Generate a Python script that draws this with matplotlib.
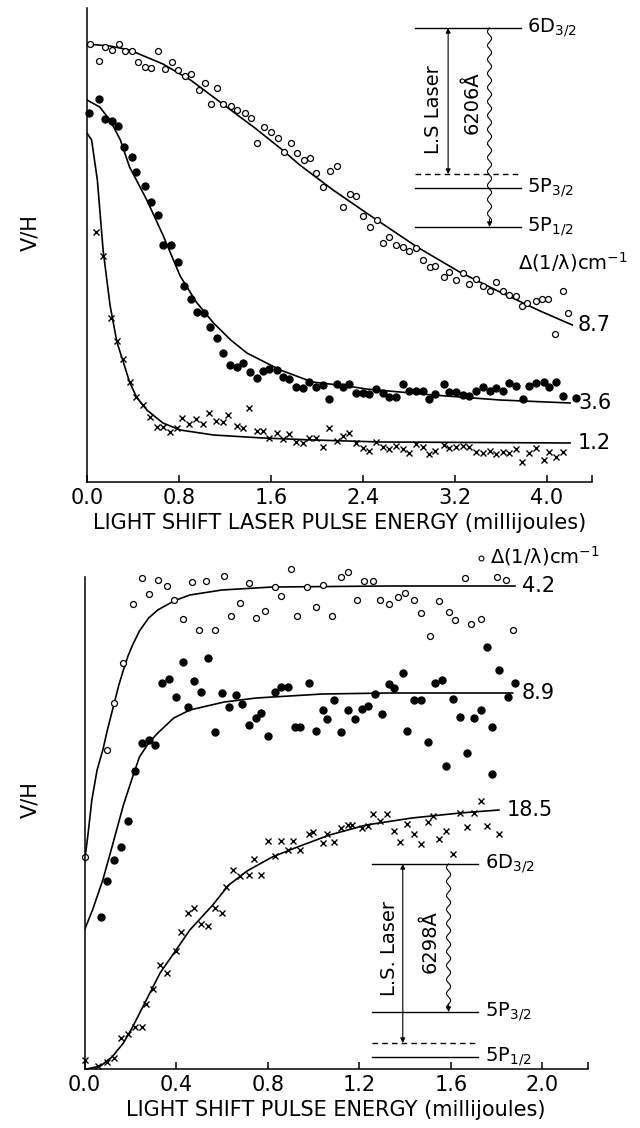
import numpy as np
import matplotlib
matplotlib.use("Agg")
import matplotlib.pyplot as plt

plt.rcParams['font.family'] = ['DejaVu Sans']
plt.rcParams['mathtext.default'] = 'regular'

# ---------------- top panel: 6206 A light shift laser ----------------
# x in millijoules, y = V/H in arbitrary units
top_open_x = [0.03, 0.10, 0.16, 0.22, 0.28, 0.33, 0.39, 0.44, 0.50, 0.56, 0.62, 0.68, 0.74, 0.79,
              0.85, 0.90, 0.97, 1.03, 1.08, 1.13, 1.18, 1.25, 1.30, 1.37, 1.43, 1.48, 1.54, 1.60,
              1.66, 1.71, 1.77, 1.83, 1.89, 1.94, 1.99, 2.05, 2.11, 2.17, 2.23, 2.29, 2.34, 2.40,
              2.46, 2.52, 2.57, 2.63, 2.69, 2.75, 2.80, 2.86, 2.92, 2.98, 3.03, 3.10, 3.15, 3.21,
              3.27, 3.32, 3.38, 3.44, 3.50, 3.56, 3.62, 3.67, 3.73, 3.78, 3.83, 3.90, 3.96, 4.01,
              4.07, 4.14, 4.18]
top_open_y = [438, 421, 435, 432, 438, 431, 431, 420, 415, 414, 431, 413, 420, 412,
              406, 408, 392, 399, 378, 394, 378, 376, 372, 369, 364, 339, 355, 350,
              344, 330, 339, 329, 322, 324, 309, 295, 311, 316, 275, 288, 286, 266,
              255, 262, 239, 245, 237, 235, 231, 234, 222, 215, 216, 205, 210, 202,
              209, 198, 203, 196, 191, 200, 191, 187, 186, 176, 179, 181, 183, 183,
              148, 191, 169]
top_open_fit_x = [0, 0.2, 0.37, 0.66, 0.9, 1.18, 1.46, 1.7, 1.85, 2.14, 2.43, 2.87, 3.24, 3.59, 3.94, 4.22]
top_open_fit_y = [438, 436, 432, 418, 402, 378, 354, 332, 317, 292, 269, 235, 210, 190, 171, 157]

top_fill_x = [0.02, 0.10, 0.16, 0.22, 0.27, 0.32, 0.39, 0.43, 0.50, 0.56, 0.62, 0.66, 0.73, 0.79,
              0.84, 0.90, 0.96, 1.02, 1.07, 1.13, 1.18, 1.24, 1.30, 1.36, 1.42, 1.48, 1.53, 1.58,
              1.65, 1.70, 1.76, 1.82, 1.88, 1.93, 1.99, 2.05, 2.10, 2.17, 2.23, 2.28, 2.34, 2.40,
              2.45, 2.51, 2.57, 2.63, 2.69, 2.75, 2.80, 2.86, 2.92, 2.97, 3.03, 3.10, 3.15, 3.21,
              3.27, 3.32, 3.38, 3.44, 3.50, 3.56, 3.62, 3.67, 3.73, 3.79, 3.84, 3.90, 3.97, 4.02,
              4.08, 4.14, 4.25]
top_fill_y = [369, 383, 363, 361, 356, 335, 325, 310, 296, 280, 267, 237, 237, 220,
              196, 183, 170, 169, 155, 144, 129, 117, 115, 119, 110, 104, 111, 113,
              112, 105, 103, 95, 94, 100, 95, 97, 83, 98, 95, 98, 89, 89,
              88, 93, 89, 85, 85, 98, 91, 91, 91, 83, 88, 98, 90, 90,
              87, 86, 91, 95, 91, 94, 91, 99, 96, 83, 96, 99, 100, 95,
              100, 86, 84]
top_fill_fit_x = [0, 0.11, 0.2, 0.29, 0.37, 0.52, 0.66, 0.81, 0.95, 1.1, 1.25, 1.39, 1.68, 1.96, 2.26,
                  2.43, 3.01, 3.59, 4.2]
top_fill_fit_y = [382, 375, 362, 342, 315, 282, 247, 206, 180, 159, 142, 129, 112, 100, 96,
                  93, 87, 82, 79]

top_cross_x = [0.08, 0.14, 0.21, 0.26, 0.31, 0.37, 0.43, 0.49, 0.55, 0.61, 0.66, 0.72, 0.78, 0.83,
               0.89, 0.95, 1.01, 1.06, 1.12, 1.18, 1.23, 1.30, 1.36, 1.41, 1.48, 1.53, 1.58, 1.65,
               1.70, 1.76, 1.82, 1.88, 1.93, 1.99, 2.05, 2.10, 2.17, 2.23, 2.28, 2.34, 2.40, 2.45,
               2.51, 2.57, 2.63, 2.69, 2.75, 2.80, 2.86, 2.92, 2.97, 3.03, 3.10, 3.15, 3.21, 3.27,
               3.32, 3.38, 3.44, 3.50, 3.56, 3.62, 3.67, 3.73, 3.78, 3.84, 3.90, 3.97, 4.02, 4.08,
               4.14]
top_cross_y = [250, 226, 164, 141, 123, 100, 85, 77, 65, 55, 55, 50, 54, 64,
               58, 63, 58, 69, 61, 60, 67, 56, 54, 74, 51, 51, 44, 49,
               43, 48, 40, 39, 44, 44, 35, 54, 41, 46, 49, 39, 34, 31,
               40, 35, 33, 36, 33, 29, 38, 35, 28, 31, 37, 34, 35, 36,
               35, 30, 29, 31, 28, 30, 29, 33, 20, 29, 34, 22, 30, 25,
               30]
top_cross_fit_x = [0, 0.04, 0.09, 0.14, 0.2, 0.26, 0.31, 0.37, 0.43, 0.52, 0.66, 0.81, 1.1, 1.53, 1.97, 2.55, 4.2]
top_cross_fit_y = [349, 342, 302, 232, 177, 140, 122, 100, 85, 72, 59, 52, 47, 44, 42, 40, 39]

top_ticks = [0.0, 0.8, 1.6, 2.4, 3.2, 4.0]
top_tick_labels = ['0.0', '0.8', '1.6', '2.4', '3.2', '4.0']
top_curve_labels = ['8.7', '3.6', '1.2']

# ---------------- bottom panel: 6298 A light shift laser ----------------
bot_open_x = [0.00, 0.10, 0.13, 0.17, 0.21, 0.25, 0.28, 0.32, 0.36, 0.39, 0.43, 0.47, 0.50, 0.53,
              0.57, 0.61, 0.64, 0.68, 0.72, 0.75, 0.79, 0.83, 0.86, 0.90, 0.93, 0.97, 1.01, 1.04,
              1.08, 1.12, 1.15, 1.19, 1.22, 1.26, 1.29, 1.33, 1.37, 1.40, 1.44, 1.47, 1.51, 1.55,
              1.59, 1.62, 1.66, 1.69, 1.73, 1.80, 1.84, 1.87]
bot_open_y = [212, 319, 366, 406, 465, 491, 475, 489, 483, 469, 450, 487, 439, 488,
              439, 493, 453, 466, 486, 451, 458, 482, 473, 500, 453, 482, 462, 484,
              453, 492, 497, 469, 488, 488, 469, 465, 472, 476, 469, 456, 433, 468,
              457, 449, 491, 445, 450, 492, 489, 439]
bot_open_fit_x = [0.0, 0.015, 0.032, 0.055, 0.08, 0.10, 0.13, 0.15, 0.17, 0.19, 0.21, 0.24, 0.28,
                  0.32, 0.39, 0.46, 0.60, 0.82, 1.33, 1.88]
bot_open_fit_y = [207, 234, 269, 299, 319, 339, 366, 384, 399, 413, 424, 438, 451,
                  459, 468, 474, 479, 482, 483, 483]

bot_fill_x = [0.07, 0.10, 0.13, 0.16, 0.19, 0.22, 0.25, 0.28, 0.31, 0.34, 0.37, 0.40, 0.43, 0.45,
              0.48, 0.51, 0.54, 0.57, 0.60, 0.63, 0.66, 0.69, 0.72, 0.75, 0.77, 0.80, 0.83, 0.86,
              0.89, 0.92, 0.94, 0.98, 1.01, 1.04, 1.06, 1.09, 1.12, 1.15, 1.18, 1.21, 1.24, 1.27,
              1.30, 1.33, 1.35, 1.39, 1.41, 1.44, 1.47, 1.50, 1.53, 1.56, 1.58, 1.61, 1.64, 1.67,
              1.70, 1.73, 1.76, 1.78, 1.78, 1.81, 1.85, 1.88]
bot_fill_y = [152, 188, 209, 222, 248, 298, 326, 329, 324, 386, 390, 372, 407, 362,
              388, 377, 411, 337, 376, 362, 374, 365, 344, 351, 356, 333, 377, 382,
              382, 342, 342, 386, 338, 359, 350, 369, 337, 359, 350, 360, 363, 375,
              355, 385, 381, 396, 338, 369, 369, 327, 386, 389, 303, 370, 352, 316,
              351, 359, 422, 342, 295, 399, 372, 386]
bot_fill_fit_x = [0, 0.035, 0.08, 0.12, 0.17, 0.21, 0.24, 0.28, 0.32, 0.39, 0.46, 0.61, 0.75, 1.04, 1.33, 1.87]
bot_fill_fit_y = [139, 159, 189, 222, 264, 292, 312, 326, 336, 351, 359, 367, 371, 375, 376, 376]

bot_cross_x = [0.00, 0.06, 0.10, 0.13, 0.16, 0.19, 0.22, 0.25, 0.27, 0.30, 0.33, 0.36, 0.40, 0.42,
               0.45, 0.48, 0.51, 0.54, 0.57, 0.60, 0.62, 0.65, 0.68, 0.72, 0.74, 0.77, 0.80, 0.83,
               0.86, 0.89, 0.91, 0.94, 0.98, 1.00, 1.04, 1.06, 1.09, 1.12, 1.15, 1.17, 1.21, 1.24,
               1.26, 1.29, 1.32, 1.35, 1.38, 1.41, 1.44, 1.47, 1.50, 1.52, 1.55, 1.58, 1.61, 1.64,
               1.67, 1.70, 1.73, 1.76, 1.81]
bot_cross_y = [9, 3, 7, 11, 31, 35, 42, 42, 65, 80, 104, 96, 118, 137,
               156, 161, 145, 143, 161, 156, 182, 199, 193, 194, 210, 194, 228, 213,
               228, 219, 228, 219, 235, 237, 226, 235, 227, 241, 244, 244, 241, 243,
               255, 248, 255, 238, 227, 245, 235, 225, 247, 253, 230, 238, 215, 256,
               242, 256, 268, 243, 235]
bot_cross_fit_x = [0.01, 0.07, 0.12, 0.17, 0.21, 0.27, 0.33, 0.40, 0.46, 0.50, 0.56, 0.63, 0.71, 0.82,
                   0.93, 1.07, 1.23, 1.43, 1.64, 1.81]
bot_cross_fit_y = [0, 3, 12, 26, 42, 69, 96, 119, 139, 149, 164, 184, 198, 212,
                   222, 234, 244, 251, 256, 259]

bot_ticks = [0.0, 0.4, 0.8, 1.2, 1.6, 2.0]
bot_tick_labels = ['0.0', '0.4', '0.8', '1.2', '1.6', '2.0']
bot_curve_labels = ['4.2', '8.9', '18.5']

LW = 1.2
FS = 15


def style_axis(ax, xmax, ymax, ticks, labels):
    ax.set_xlim(0, xmax)
    ax.set_ylim(0, ymax)
    for s in ['top', 'right']:
        ax.spines[s].set_visible(False)
    for s in ['left', 'bottom']:
        ax.spines[s].set_linewidth(1.1)
    ax.set_yticks([])
    ax.set_xticks(ticks)
    ax.set_xticklabels(labels)
    ax.set_xticks([xmax], minor=True)
    ax.tick_params(axis='x', which='both', direction='in', length=5, width=1.1,
                   labelsize=FS, pad=4)


def wavy(ax, x0, y_top, y_bot, amp, period=14):
    yy = np.linspace(y_bot + 4, y_top, 200)
    xx = x0 + amp * np.sin(2 * np.pi * (yy - y_top) / period)
    ax.plot(xx, yy, color='black', lw=0.8)
    ax.annotate('', xy=(x0, y_bot), xytext=(x0, y_bot + 8),
                arrowprops=dict(arrowstyle='-|>', color='black', lw=0.8,
                                mutation_scale=7, shrinkA=0, shrinkB=0))


def double_arrow(ax, x0, y_top, y_bot):
    ax.annotate('', xy=(x0, y_top), xytext=(x0, y_bot),
                arrowprops=dict(arrowstyle='<|-|>', color='black', lw=0.8,
                                mutation_scale=7, shrinkA=0, shrinkB=0))


fig = plt.figure(figsize=(6.4, 11.28), dpi=100)

# ---- top ----
ax1 = fig.add_axes([87 / 640, 1 - 482 / 1128, 505 / 640, 474 / 1128])
style_axis(ax1, 4.391, 474, top_ticks, top_tick_labels)

ax1.plot(top_open_fit_x, top_open_fit_y, color='black', lw=LW)
ax1.plot(top_fill_fit_x, top_fill_fit_y, color='black', lw=LW)
ax1.plot(top_cross_fit_x, top_cross_fit_y, color='black', lw=LW)
ax1.plot(top_open_x, top_open_y, 'o', ms=4.3, mfc='white', mec='black', mew=0.9, clip_on=False)
ax1.plot(top_fill_x, top_fill_y, 'o', ms=5, color='black', clip_on=False)
ax1.plot(top_cross_x, top_cross_y, 'x', ms=3.8, mew=1.0, color='black', clip_on=False)

for lab, yv in zip(top_curve_labels, [top_open_fit_y[-1], top_fill_fit_y[-1], top_cross_fit_y[-1]]):
    ax1.text(4.27, yv, lab, fontsize=FS, va='center', ha='left')
ax1.text(3.75, 220, r'$\Delta$(1/$\lambda$)cm$^{-1}$', fontsize=14, va='center', ha='left')

# energy level diagram (top)
for yl, ls in [(454, '-'), (308, (0, (4, 3))), (294, '-'), (255, '-')]:
    ax1.plot([2.85, 3.77], [yl, yl], color='black', lw=1.0, ls=ls)
double_arrow(ax1, 3.14, 454, 308)
wavy(ax1, 3.50, 454, 255, 0.018)
ax1.text(3.83, 454, '6D$_{3/2}$', fontsize=14, va='center', ha='left')
ax1.text(3.83, 294, '5P$_{3/2}$', fontsize=14, va='center', ha='left')
ax1.text(3.83, 255, '5P$_{1/2}$', fontsize=14, va='center', ha='left')
ax1.text(3.01, 372, 'L.S Laser', fontsize=14, rotation=90, va='center', ha='center')
ax1.text(3.35, 379, '6206Å', fontsize=14, rotation=90, va='center', ha='center')

ax1.set_xlabel('LIGHT SHIFT LASER PULSE ENERGY (millijoules)', fontsize=FS, labelpad=4)
ax1.set_ylabel('V/H', fontsize=FS)
ax1.yaxis.set_label_coords(-47 / 505, 0.527)

# ---- bottom ----
ax2 = fig.add_axes([84.5 / 640, 1 - 1069 / 1128, 503.5 / 640, 492 / 1128])
style_axis(ax2, 2.199, 492, bot_ticks, bot_tick_labels)

ax2.plot(bot_open_fit_x, bot_open_fit_y, color='black', lw=LW)
ax2.plot(bot_fill_fit_x, bot_fill_fit_y, color='black', lw=LW)
ax2.plot(bot_cross_fit_x, bot_cross_fit_y, color='black', lw=LW, clip_on=False)
ax2.plot(bot_open_x, bot_open_y, 'o', ms=4.3, mfc='white', mec='black', mew=0.9, clip_on=False)
ax2.plot(bot_fill_x, bot_fill_y, 'o', ms=5, color='black', clip_on=False)
ax2.plot(bot_cross_x, bot_cross_y, 'x', ms=3.8, mew=1.0, color='black', clip_on=False)

ax2.text(1.91, bot_open_fit_y[-1], bot_curve_labels[0], fontsize=FS, va='center', ha='left')
ax2.text(1.91, bot_fill_fit_y[-1], bot_curve_labels[1], fontsize=FS, va='center', ha='left')
ax2.text(1.845, bot_cross_fit_y[-1], bot_curve_labels[2], fontsize=FS, va='center', ha='left')
ax2.plot([1.73], [511], 'o', ms=3.5, mfc='white', mec='black', mew=0.8, clip_on=False)
ax2.text(1.77, 513, r'$\Delta$(1/$\lambda$)cm$^{-1}$', fontsize=14, va='center', ha='left')

# energy level diagram (bottom)
for yl, ls in [(205, '-'), (57, '-'), (26, (0, (4, 3))), (12, '-')]:
    ax2.plot([1.255, 1.72], [yl, yl], color='black', lw=1.0, ls=ls)
double_arrow(ax2, 1.39, 205, 26)
wavy(ax2, 1.59, 205, 57, 0.009)
ax2.text(1.75, 205, '6D$_{3/2}$', fontsize=14, va='center', ha='left')
ax2.text(1.75, 57, '5P$_{3/2}$', fontsize=14, va='center', ha='left')
ax2.text(1.75, 12, '5P$_{1/2}$', fontsize=14, va='center', ha='left')
ax2.text(1.33, 121, 'L.S. Laser', fontsize=14, rotation=90, va='center', ha='center')
ax2.text(1.51, 127, '6298Å', fontsize=14, rotation=90, va='center', ha='center')

ax2.set_xlabel('LIGHT SHIFT PULSE ENERGY (millijoules)', fontsize=FS, labelpad=4)
ax2.set_ylabel('V/H', fontsize=FS)
ax2.yaxis.set_label_coords(-44 / 503.5, 0.547)

fig.savefig('out.png', dpi=100, facecolor='white')
